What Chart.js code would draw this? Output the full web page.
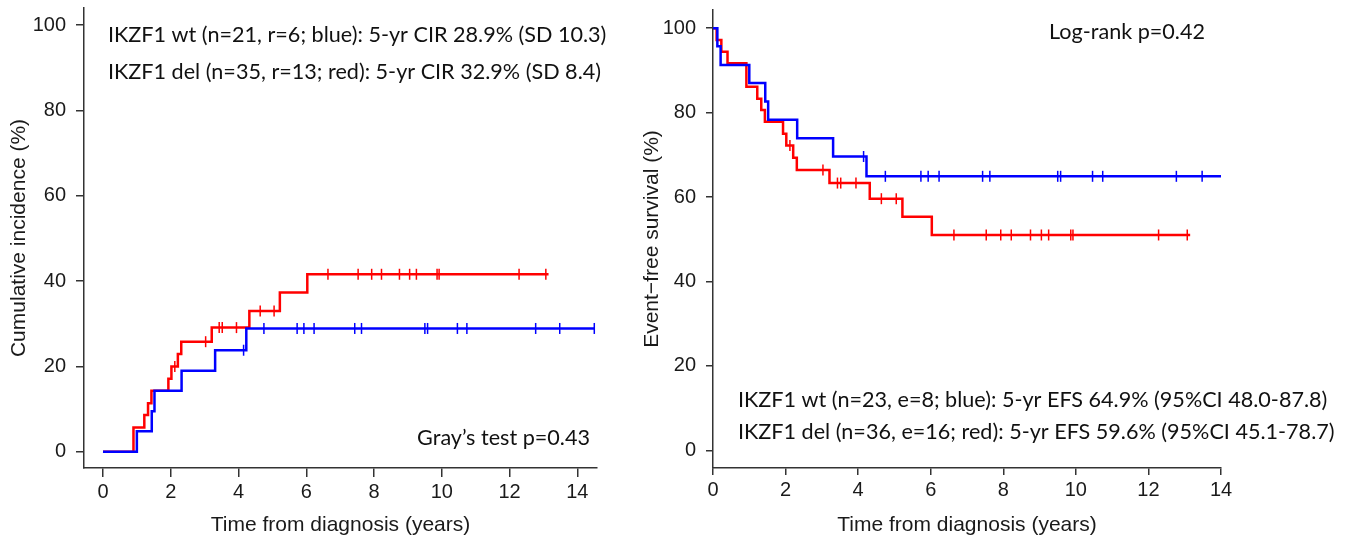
<!DOCTYPE html>
<html>
<head>
<meta charset="utf-8">
<script src="https://cdn.jsdelivr.net/npm/chart.js@4.4.1/dist/chart.umd.min.js"></script>
<style>
  html, body { margin: 0; padding: 0; background: #fff; }
  #wrap { position: relative; width: 1350px; height: 545px; }
  .box { position: absolute; top: 0; height: 545px; }
  #left { left: 0; width: 640px; }
  #right { left: 640px; width: 710px; }
</style>
</head>
<body>
<div id="wrap">
  <div class="box" id="left"><canvas id="cirChart"></canvas></div>
  <div class="box" id="right"><canvas id="efsChart"></canvas></div>
</div>
<script>
// axis ticks
const xTicks = [0, 2, 4, 6, 8, 10, 12, 14];
const yTicks = [0, 20, 40, 60, 80, 100];

// cumulative incidence of relapse (%), step at each time
const cirWtTimes  = [0, 1.00, 1.44, 1.52, 2.32, 3.31, 4.23, 14.5];
const cirWtValues = [0, 4.8, 9.5, 14.3, 19.0, 23.8, 28.9, 28.9];
const cirDelTimes  = [0, 0.90, 1.22, 1.33, 1.43, 1.93, 2.02, 2.21, 2.31, 3.21, 4.32, 5.22, 6.03, 13.15];
const cirDelValues = [0, 5.7, 8.6, 11.4, 14.3, 17.1, 20.0, 22.9, 25.8, 29.1, 33.0, 37.3, 41.6, 41.6];

// event-free survival (%)
const efsWtTimes  = [0, 0.12, 0.21, 1.00, 1.44, 1.52, 2.32, 3.31, 4.23, 14.5];
const efsWtValues = [100, 95.7, 91.3, 87.0, 82.6, 78.3, 73.9, 69.6, 64.9, 64.9];
const efsDelTimes  = [0, 0.10, 0.23, 0.40, 0.92, 1.22, 1.33, 1.43, 1.93, 2.02, 2.21, 2.31, 3.21, 4.32, 5.22, 6.03, 13.15];
const efsDelValues = [100, 97.2, 94.4, 91.7, 86.1, 83.3, 80.6, 77.8, 75.0, 72.2, 69.3, 66.4, 63.3, 59.6, 55.3, 51.0, 51.0];

// censoring times (years)
const wtCensor  = [4.15, 4.75, 5.73, 5.93, 6.23, 7.43, 7.63, 9.50, 9.58, 10.46, 10.74, 12.77, 13.48, 14.5];
const delCensor = [2.12, 3.03, 3.43, 3.52, 3.94, 4.64, 5.05, 6.64, 7.53, 7.93, 8.22, 8.75, 9.05, 9.25, 9.86, 9.92, 12.28, 13.07];

const RED = '#ff0000';
const BLUE = '#0000ff';

function levelAt(times, values, t) {
  let v = values[0];
  for (let i = 0; i < times.length; i++) {
    if (times[i] <= t) v = values[i];
  }
  return v;
}

function stepLine(times, values, color) {
  return {
    data: times.map((t, i) => ({ x: t, y: values[i] })),
    borderColor: color,
    borderWidth: 2.5,
    stepped: 'before',
    pointRadius: 0,
    fill: false
  };
}

function censorMarks(censor, times, values, color) {
  return {
    data: censor.map(t => ({ x: t, y: levelAt(times, values, t) })),
    showLine: false,
    pointStyle: 'line',
    rotation: 90,
    pointRadius: 5.5,
    pointBorderWidth: 1.5,
    borderColor: color,
    backgroundColor: color
  };
}

const notesPlugin = {
  id: 'notes',
  afterDraw(chart, args, opts) {
    const ctx = chart.ctx;
    ctx.save();
    ctx.fillStyle = '#111';
    ctx.font = opts.font;
    ctx.textBaseline = 'middle';
    opts.items.forEach(n => {
      ctx.textAlign = n.align || 'left';
      ctx.fillText(n.text, n.x, n.y);
    });
    ctx.restore();
  }
};

const tickFont = { family: '"Liberation Sans", Arial, sans-serif', size: 20 };
const titleFont = { family: '"Liberation Sans", Arial, sans-serif', size: 21 };
const noteFont = '21.6px Lato, "Open Sans", sans-serif';

function noPad(s) {
  s.paddingTop = 0; s.paddingBottom = 0; s.paddingLeft = 0; s.paddingRight = 0;
}

function makeChart(id, o) {
  return new Chart(document.getElementById(id), {
    type: 'line',
    data: { datasets: o.datasets },
    plugins: [notesPlugin],
    options: {
      responsive: true,
      maintainAspectRatio: false,
      animation: false,
      layout: { padding: { top: o.top, right: o.right, left: 0, bottom: 0 } },
      plugins: {
        legend: { display: false },
        tooltip: { enabled: false },
        notes: { font: noteFont, items: o.notes }
      },
      scales: {
        x: {
          type: 'linear',
          min: o.xMin, max: o.xMax,
          afterBuildTicks: s => { s.ticks = xTicks.map(v => ({ value: v })); },
          afterFit: s => { s.height = 77; noPad(s); },
          grid: { drawOnChartArea: false, drawTicks: true, tickLength: o.xTickLen, color: '#333', lineWidth: 1.5 },
          border: { display: true, color: '#333', width: 1.5 },
          ticks: { font: tickFont, color: '#1a1a1a', padding: 3, maxRotation: 0 },
          title: { display: true, text: 'Time from diagnosis (years)', font: titleFont, color: '#1a1a1a', padding: { top: 0, bottom: 7 } }
        },
        y: {
          min: o.yMin, max: o.yMax,
          afterBuildTicks: s => { s.ticks = yTicks.map(v => ({ value: v })); },
          afterFit: s => { s.width = o.yWidth; noPad(s); },
          grid: { drawOnChartArea: false, drawTicks: true, tickLength: o.yTickLen, color: '#333', lineWidth: 1.5 },
          border: { display: true, color: '#333', width: 1.5 },
          ticks: { font: tickFont, color: '#1a1a1a', padding: 10 },
          title: { display: true, text: o.yTitle, font: titleFont, color: '#1a1a1a', padding: { top: o.yTitlePad, bottom: 0 } }
        }
      }
    }
  });
}

makeChart('cirChart', {
  datasets: [
    stepLine(cirWtTimes, cirWtValues, BLUE),
    censorMarks(wtCensor, cirWtTimes, cirWtValues, BLUE),
    stepLine(cirDelTimes, cirDelValues, RED),
    censorMarks(delCensor, cirDelTimes, cirDelValues, RED)
  ],
  xMin: -0.56, xMax: 14.58, yMin: -3.8, yMax: 104,
  top: 8, right: 43, yWidth: 84, xTickLen: 9, yTickLen: 8, yTitlePad: 7,
  yTitle: 'Cumulative incidence (%)',
  notes: [
    { text: 'IKZF1 wt (n=21, r=6; blue): 5-yr CIR 28.9% (SD 10.3)', x: 108, y: 35 },
    { text: 'IKZF1 del (n=35, r=13; red): 5-yr CIR 32.9% (SD 8.4)', x: 108, y: 72 },
    { text: 'Gray\u2019s test p=0.43', x: 590, y: 438, align: 'right' }
  ]
});

makeChart('efsChart', {
  datasets: [
    stepLine(efsWtTimes, efsWtValues, BLUE),
    censorMarks(wtCensor, efsWtTimes, efsWtValues, BLUE),
    stepLine(efsDelTimes, efsDelValues, RED),
    censorMarks(delCensor, efsDelTimes, efsDelValues, RED)
  ],
  xMin: 0, xMax: 14, yMin: -4.2, yMax: 104.3,
  top: 10, right: 129, yWidth: 73, xTickLen: 7, yTickLen: 7, yTitlePad: 0,
  yTitle: 'Event\u2212free survival (%)',
  notes: [
    { text: 'Log-rank p=0.42', x: 565, y: 32, align: 'right' },
    { text: 'IKZF1 wt (n=23, e=8; blue): 5-yr EFS 64.9% (95%CI 48.0-87.8)', x: 98, y: 400 },
    { text: 'IKZF1 del (n=36, e=16; red): 5-yr EFS 59.6% (95%CI 45.1-78.7)', x: 98, y: 432 }
  ]
});
</script>
</body>
</html>
